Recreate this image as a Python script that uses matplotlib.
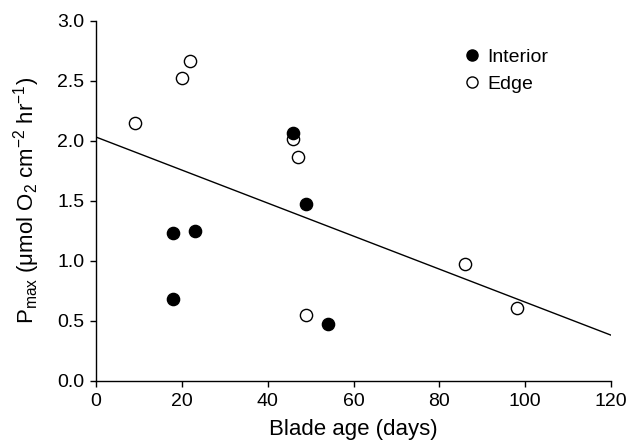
import matplotlib
matplotlib.use("Agg")
import matplotlib.pyplot as plt
from matplotlib.lines import Line2D

plt.rcParams['font.family'] = ['Liberation Sans', 'DejaVu Sans']
plt.rcParams['mathtext.fontset'] = 'custom'
plt.rcParams['mathtext.rm'] = 'Liberation Sans'

# interior blades
interior_age = [18, 23, 18, 46, 49, 54]
interior_pmax = [1.23, 1.25, 0.68, 2.06, 1.47, 0.47]
# edge blades
edge_age = [9, 20, 22, 46, 47, 49, 86, 98]
edge_pmax = [2.15, 2.52, 2.66, 2.01, 1.86, 0.55, 0.97, 0.61]
# regression line endpoints
fit_x = [0, 120]
fit_y = [2.03, 0.38]

fig = plt.figure(figsize=(6.28, 4.48), dpi=100)
ax = fig.add_axes([0.153, 0.150, 0.820, 0.804])

ax.plot(fit_x, fit_y, color='black', lw=1.0, zorder=1)
ax.plot(edge_age, edge_pmax, 'o', ms=8.8, mfc='white', mec='black', mew=1.0, zorder=2)
ax.plot(interior_age, interior_pmax, 'o', ms=8.8, mfc='black', mec='black', mew=1.0, zorder=3)

ax.set_xlim(0, 120)
ax.set_ylim(0, 3.0)
ax.set_xticks([0, 20, 40, 60, 80, 100, 120])
ax.set_yticks([0.0, 0.5, 1.0, 1.5, 2.0, 2.5, 3.0])
ax.set_yticklabels(['0.0', '0.5', '1.0', '1.5', '2.0', '2.5', '3.0'])
ax.tick_params(direction='out', length=4.5, width=1, labelsize=14, pad=4)
for s in ['top', 'right']:
    ax.spines[s].set_visible(False)
ax.spines['left'].set_linewidth(1)
ax.spines['bottom'].set_linewidth(1)

ax.set_xlabel('Blade age (days)', fontsize=16, labelpad=7)
ax.set_ylabel(r'P$_{\mathregular{max}}$ ($\mathregular{\mu}$mol O$_{\mathregular{2}}$ cm$^{\mathregular{-2}}$ hr$^{\mathregular{-1}}$)',
              fontsize=16, labelpad=11)

handles = [
    Line2D([], [], ls='none', marker='o', ms=8, mfc='black', mec='black'),
    Line2D([], [], ls='none', marker='o', ms=8, mfc='white', mec='black'),
]
ax.legend(handles, ['Interior', 'Edge'], loc='upper left', bbox_to_anchor=(0.70, 0.945),
          frameon=False, fontsize=14, handlelength=0.8, handletextpad=0.4,
          labelspacing=0.5, borderaxespad=0)

fig.savefig('out.png', dpi=100)
